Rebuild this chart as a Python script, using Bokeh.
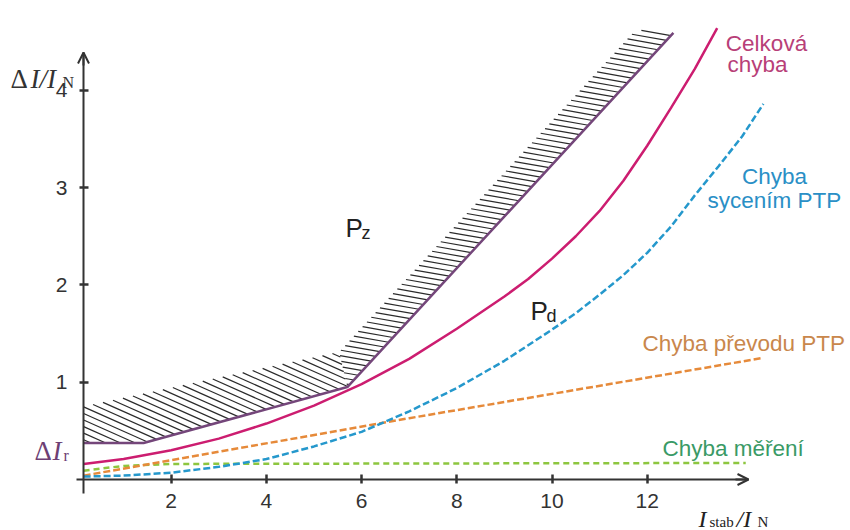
import numpy as np
from bokeh.plotting import figure
from bokeh.models import Label, Arrow, OpenHead, FixedTicker, Range1d
from bokeh.embed import file_html
from bokeh.resources import INLINE

# ---------------- data ----------------
x_ticks = [2, 4, 6, 8, 10, 12]
y_ticks = [1, 2, 3, 4]

# total error (Celková chyba)
total_x = [0.16, 1, 2, 3, 4, 5, 6, 7, 8, 9, 9.5, 10, 10.5, 11, 11.5, 12, 12.5, 13, 13.47]
total_y = [0.16, 0.21, 0.30, 0.42, 0.575, 0.76, 0.98, 1.24, 1.55, 1.88, 2.06, 2.27, 2.50, 2.76, 3.07, 3.43, 3.82, 4.22, 4.64]
# CT saturation error (Chyba sycením PTP)
sat_x = [0.16, 1, 2, 3, 4, 5, 6, 7, 8, 9, 10, 10.5, 11, 11.5, 12, 12.5, 13, 13.5, 14, 14.44]
sat_y = [0.03, 0.04, 0.07, 0.13, 0.21, 0.34, 0.49, 0.70, 0.94, 1.22, 1.54, 1.71, 1.90, 2.10, 2.33, 2.60, 2.92, 3.22, 3.53, 3.86]
# CT ratio error (Chyba převodu PTP)
ratio_x = [0.16, 7, 14.44]
ratio_y = [0.04, 0.63, 1.25]
# measurement error (Chyba měření)
meas_x = [0.16, 1, 2, 8, 14.07]
meas_y = [0.09, 0.14, 0.16, 0.165, 0.17]
# characteristic (boundary between P_z and P_d)
bound_x = [0.16, 1.42, 5.70, 12.55]
bound_y = [0.375, 0.375, 0.95, 4.59]
# upper edge of the hatched band
hatch_top_x = [0.16, 5.53, 11.76]
hatch_top_y = [0.75, 1.31, 4.62]

# ---------------- layout ----------------
W, H = 850, 530
X_PX = 47.6   # px per x unit
Y_PX = 97.3   # px per y unit
X0_PX, Y0_PX = 75.5, 479.0   # canvas pixel of x = 0 / y = 0

def px(page_x):
    return (page_x - X0_PX) / X_PX

def py(page_y):
    return (Y0_PX - page_y) / Y_PX

p = figure(width=W, height=H, x_range=Range1d(px(0), px(W)), y_range=Range1d(py(H), py(0)),
           output_backend="svg", toolbar_location=None,
           min_border_left=0, min_border_right=0, min_border_top=0, min_border_bottom=0)
p.grid.visible = False
p.outline_line_color = None
p.background_fill_color = "white"

AX = "#333333"
for ax, ticks, stand in ((p.xaxis, x_ticks, 10), (p.yaxis, y_ticks, 12)):
    ax.ticker = FixedTicker(ticks=ticks)
    ax.minor_tick_line_color = None
    ax.major_tick_in = 5
    ax.major_tick_out = 4
    ax.major_tick_line_width = 2.5
    ax.major_tick_line_color = AX
    ax.axis_line_width = 2
    ax.axis_line_color = AX
    ax.major_label_text_font = "Liberation Sans"
    ax.major_label_text_font_size = "21px"
    ax.major_label_text_color = AX
    ax.major_label_standoff = stand
p.xaxis.fixed_location = 0
p.yaxis.fixed_location = px(83)
p.xaxis.bounds = (px(76), px(748))
p.yaxis.bounds = (py(493), py(52))

p.add_layout(Arrow(end=OpenHead(size=11, line_color=AX, line_width=2),
                   x_start=px(735), y_start=0, x_end=px(748), y_end=0,
                   line_color=AX, line_width=2))
p.add_layout(Arrow(end=OpenHead(size=11, line_color=AX, line_width=2),
                   x_start=px(83), y_start=py(65), x_end=px(83), y_end=py(52),
                   line_color=AX, line_width=2))

# ---------------- hatching of the band ----------------
def hatch(poly_x, poly_y, angle_deg, spacing):
    P = np.stack([np.array(poly_x) * X_PX, np.array(poly_y) * Y_PX], 1)
    th = np.radians(angle_deg)
    d = np.array([np.cos(th), -np.sin(th)])
    n = np.array([np.sin(th), np.cos(th)])
    proj = P @ n
    out = []
    c = proj.min() + spacing / 2
    while c < proj.max():
        pts = []
        for i in range(len(P)):
            A, B = P[i], P[(i + 1) % len(P)]
            a, b = A @ n - c, B @ n - c
            if (a < 0) != (b < 0):
                t = a / (a - b)
                pts.append(A + t * (B - A))
        pts.sort(key=lambda q: q @ d)
        for k in range(0, len(pts) - 1, 2):
            out.append((pts[k], pts[k + 1]))
        c += spacing
    xs0 = [s[0][0] / X_PX for s in out]
    ys0 = [s[0][1] / Y_PX for s in out]
    xs1 = [s[1][0] / X_PX for s in out]
    ys1 = [s[1][1] / Y_PX for s in out]
    return xs0, ys0, xs1, ys1

polyA_x = bound_x[:3] + [hatch_top_x[1], hatch_top_x[0]]
polyA_y = bound_y[:3] + [hatch_top_y[1], hatch_top_y[0]]
polyB_x = bound_x[2:] + [hatch_top_x[2], hatch_top_x[1]]
polyB_y = bound_y[2:] + [hatch_top_y[2], hatch_top_y[1]]

for poly_x, poly_y, ang, sp in ((polyA_x, polyA_y, 24, 6.0), (polyB_x, polyB_y, 10, 5.4)):
    a, b, c, d = hatch(poly_x, poly_y, ang, sp)
    p.segment(a, b, c, d, line_color="#2b2b2b", line_width=1.2)

p.line(bound_x, bound_y, line_color="#74467a", line_width=2.5)

# ---------------- curves ----------------
p.line(meas_x, meas_y, line_color="#8dc63f", line_width=2.5, line_dash="6 4")
p.line(ratio_x, ratio_y, line_color="#e68a3a", line_width=2.5, line_dash="7 3")
p.line(sat_x, sat_y, line_color="#2598cc", line_width=2.5, line_dash="7 3")
p.line(total_x, total_y, line_color="#cc1d70", line_width=2.5)

# ---------------- texts ----------------
def lab(text, page_x, page_y, size, color="#222222", font="Liberation Sans",
        style="normal", align="left"):
    p.add_layout(Label(x=px(page_x), y=py(page_y), text=text, text_font=font,
                       text_font_size=f"{size}px", text_color=color, text_font_style=style,
                       text_align=align, text_baseline="alphabetic"))

lab("Celková", 766, 43, 22.5, "#b83f78", align="center")
lab("chyba", 757, 64, 22.5, "#b83f78", align="center")
lab("Chyba", 774, 176, 22.5, "#2a8fc6", align="center")
lab("sycením  PTP", 707, 200, 22.5, "#2a8fc6")
lab("Chyba převodu PTP", 642, 343, 22.5, "#c9874c")
lab("Chyba měření", 662, 448, 22.5, "#3a9a66")

lab("P", 345, 227, 26, "#222222")
lab("z", 361, 232, 18, "#222222")
lab("P", 530, 310, 26, "#222222")
lab("d", 546, 315, 18, "#222222")

SERIF = "Liberation Serif"
lab("Δ", 10, 78, 27, "#333333", SERIF)
lab("I/I", 30, 78, 27, "#333333", SERIF, "italic")
lab("N", 62, 82, 16, "#333333", SERIF)
lab("Δ", 34, 450, 27, "#6e3f74", SERIF)
lab("I", 52, 450, 27, "#6e3f74", SERIF, "italic")
lab("r", 63, 455, 16, "#6e3f74", SERIF)
lab("I", 698, 518, 24, "#222222", SERIF, "italic")
lab("stab", 709, 521, 15, "#222222", SERIF)
lab("/I", 736, 518, 24, "#222222", SERIF, "italic")
lab("N", 757, 521, 15, "#222222", SERIF)

open("out.html", "w").write(file_html(p, INLINE))
